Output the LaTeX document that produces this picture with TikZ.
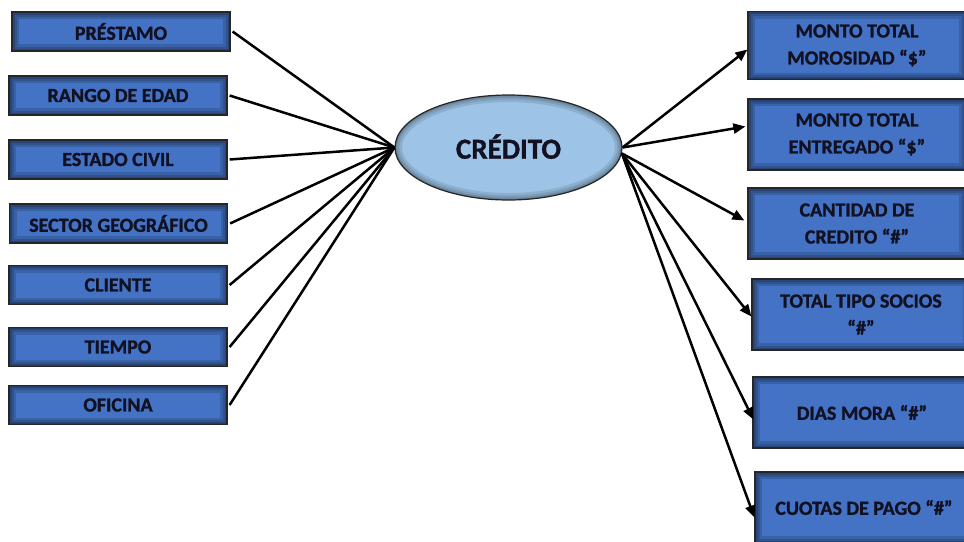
\documentclass[tikz,border=0pt]{standalone}
\usepackage{fontspec}
\setmainfont{Carlito}[BoldFeatures={FakeBold=1.2}]
\usetikzlibrary{arrows.meta,shapes.geometric}

\definecolor{boxblue}{HTML}{4472C4}
\definecolor{ovalblue}{HTML}{9DC3E6}
\definecolor{inkdark}{HTML}{111122}

\tikzset{
  dimbox/.style={
    draw=black!85, line width=1.2pt, fill=boxblue, text=inkdark,
    minimum width=218pt, minimum height=39pt, inner sep=2pt,
    font=\fontsize{20}{27}\selectfont\bfseries, align=center,
    path picture={
      \foreach \w in {14,9,5,2.5}
        \draw[black, opacity=0.15, line width=\w pt]
          (path picture bounding box.south west) rectangle
          (path picture bounding box.north east);
    }
  },
  factbox/.style={dimbox, minimum height=71pt},
  hub/.style={
    draw=black!85, line width=1.2pt, fill=ovalblue, text=inkdark,
    ellipse, minimum width=227pt, minimum height=105pt, inner sep=0pt,
    font=\fontsize{29}{32}\selectfont\bfseries,
    path picture={
      \foreach \w in {14,9,5,2.5}
        \draw[black, opacity=0.10, line width=\w pt]
          (path picture bounding box.center)
          ellipse [x radius=113.5pt, y radius=52.5pt];
    }
  },
  link/.style={draw=black, line width=2.5pt},
  flow/.style={link, -{Triangle[length=12pt,width=10pt]}}
}

\begin{document}
\begin{tikzpicture}[x=1pt, y=-1pt]
  \useasboundingbox (0,0) rectangle (964,541);
  \clip (0,0) rectangle (964,541);

  % central fact
  \node[hub] (cre) at (508.5,147.5) {\raisebox{2pt}{CRÉDITO}};

  % dimensions on the left
  \node[dimbox] (pre) at (121,31.5)  {PRÉSTAMO};
  \node[dimbox] (ran) at (118,95.5)  {RANGO DE EDAD};
  \node[dimbox] (est) at (118,159.5) {ESTADO CIVIL};
  \node[dimbox] (sec) at (118.5,223.5) {SECTOR GEOGRÁFICO};
  \node[dimbox] (cli) at (118,285)   {CLIENTE};
  \node[dimbox] (tie) at (118,347)   {TIEMPO};
  \node[dimbox] (ofi) at (118,405)   {OFICINA};

  % measures on the right
  \node[factbox, minimum height=68pt] (mor) at (857,45.5)  {MONTO TOTAL\\MOROSIDAD “\$”};
  \node[factbox] (ent) at (857,134.5) {MONTO TOTAL\\ENTREGADO “\$”};
  \node[factbox] (can) at (857,223.5) {CANTIDAD DE\\CREDITO “\#”};
  \node[factbox] (soc) at (861,314.5) {TOTAL TIPO SOCIOS\\“\#”};
  \node[factbox] (dia) at (862,412.5) {DIAS MORA “\#”};
  \node[factbox] (cuo) at (864,507.5) {CUOTAS DE PAGO “\#”};

  % dimension links
  \foreach \d in {pre,ran,est,sec,cli,tie,ofi}
    \draw[link] ([xshift=2pt]\d.east) -- (cre.west);

  % measure arrows
  \draw[flow] (cre.east) -- ([yshift=-4pt]mor.west);
  \draw[flow] (cre.east) -- ([xshift=-2pt,yshift=8pt]ent.west);
  \draw[flow] (cre.-3) -- ([xshift=-3pt,yshift=3pt]can.west);
  \draw[flow] (cre.-3) -- ([yshift=-2pt]soc.west);
  \draw[flow] (cre.-3) -- ([xshift=1pt,yshift=-7pt]dia.west);
  \draw[flow] (cre.-3) -- ([yshift=-10pt]cuo.west);
\end{tikzpicture}
\end{document}
